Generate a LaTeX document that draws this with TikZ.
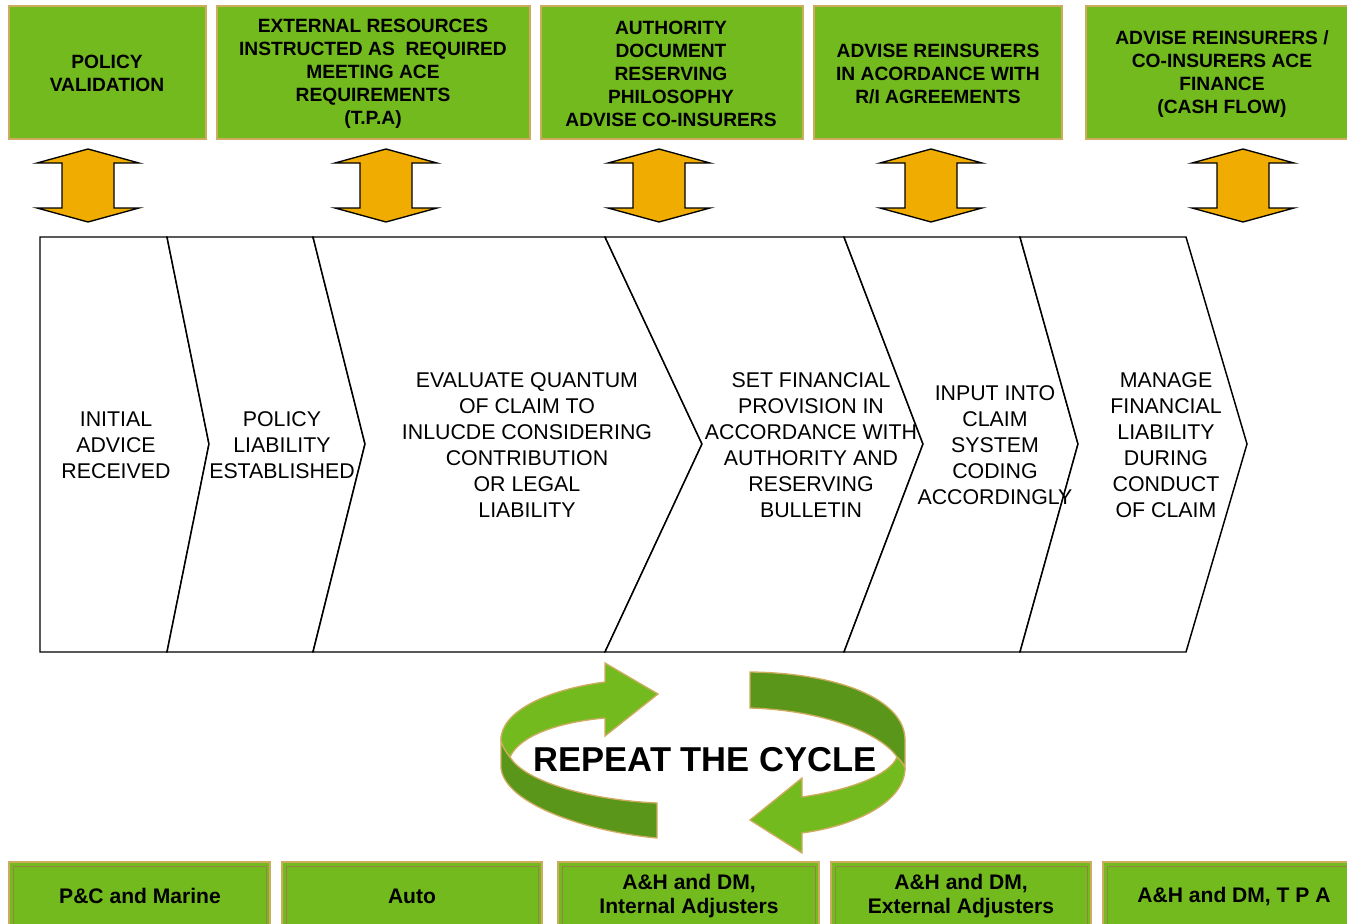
\documentclass[tikz,border=0pt]{standalone}
\usepackage{fontspec}
\setmainfont{Liberation Sans}
\definecolor{boxgreen}{RGB}{114,186,30}
\definecolor{darkgreen}{RGB}{90,150,26}
\definecolor{tanline}{RGB}{205,172,95}
\definecolor{innerline}{RGB}{150,130,70}
\definecolor{orangeA}{RGB}{240,172,0}
\tikzset{
  topbox/.style={fill=boxgreen, draw=tanline, line width=1.5pt},
  botbox/.style={fill=boxgreen, draw=tanline, line width=1.3pt},
  botinner/.style={draw=innerline, line width=0.6pt},
  toptext/.style={align=center, font=\bfseries\fontsize{14.4}{17.3}\selectfont, inner sep=0pt},
  bottext/.style={align=center, font=\bfseries\fontsize{15.8}{18}\selectfont, inner sep=0pt},
  chevtext/.style={align=center, font=\fontsize{16}{19.5}\selectfont, inner sep=0pt},
  chev/.style={draw=black, line width=1.1pt, line join=miter, fill=white},
  dblarrowstyle/.style={fill=orangeA, draw=black, line width=1pt, line join=miter},
  cyclelight/.style={fill=boxgreen, draw=tanline, line width=1pt},
  cycledark/.style={fill=darkgreen, draw=tanline, line width=1pt},
  dbl/.pic={\draw[dblarrowstyle] (0,149) -- (51,163) -- (26,163) -- (26,208) -- (51,208) -- (0,222) -- (-51,208) -- (-26,208) -- (-26,163) -- (-51,163) -- cycle;}
}
\begin{document}
\begin{tikzpicture}[x=0.75pt,y=-0.75pt]
\useasboundingbox (0,0) rectangle (1347,924);
\clip (0,0) rectangle (1347,924);

% top boxes
\path[topbox] (9,6) rectangle (206,139);
\path[topbox] (217,6) rectangle (530,139);
\path[topbox] (541,6) rectangle (803,139);
\path[topbox] (814,6) rectangle (1062,139);
\path[topbox] (1086,6) rectangle (1362,139);
\node[toptext] (t1) at (107,73) {POLICY\\VALIDATION};
\node[toptext] (t2) at (373,74) {EXTERNAL RESOURCES\\INSTRUCTED AS\ \ REQUIRED\\MEETING ACE\\REQUIREMENTS\\(T.P.A)};
\node[toptext] (t3) at (671,74) {AUTHORITY\\DOCUMENT\\RESERVING\\PHILOSOPHY\\ADVISE CO-INSURERS};
\node[toptext] (t4) at (938,74) {ADVISE REINSURERS\\IN ACORDANCE WITH\\R/I AGREEMENTS};
\node[toptext] (t5) at (1222,74) {ADVISE REINSURERS /\\CO-INSURERS ACE\\FINANCE\\(CASH FLOW)};

% double arrows
\pic at (88,0) {dbl};
\pic at (386,0) {dbl};
\pic at (659,0) {dbl};
\pic at (931,0) {dbl};
\pic at (1243,0) {dbl};

% chevrons
\path[chev] (40,237) -- (167,237) -- (209,444) -- (167,652) -- (40,652) -- cycle;
\path[chev] (167,237) -- (313,237) -- (365,444) -- (313,652) -- (167,652) -- (209,444) -- cycle;
\path[chev] (313,237) -- (605,237) -- (702,444) -- (605,652) -- (313,652) -- (365,444) -- cycle;
\path[chev] (605,237) -- (844,237) -- (923,444) -- (844,652) -- (605,652) -- (702,444) -- cycle;
\path[chev] (844,237) -- (1020,237) -- (1078,444) -- (1020,652) -- (844,652) -- (923,444) -- cycle;
\path[chev] (1020,237) -- (1186,237) -- (1247,444) -- (1186,652) -- (1020,652) -- (1078,444) -- cycle;
\node[chevtext] (c1) at (116,445) {INITIAL\\ADVICE\\RECEIVED};
\node[chevtext] (c2) at (282,445) {POLICY\\LIABILITY\\ESTABLISHED};
\node[chevtext] (c3) at (527,445) {EVALUATE QUANTUM\\OF CLAIM TO\\INLUCDE CONSIDERING\\CONTRIBUTION\\OR LEGAL\\LIABILITY};
\node[chevtext] (c4) at (811,445) {SET FINANCIAL\\PROVISION IN\\ACCORDANCE WITH\\AUTHORITY AND\\RESERVING\\BULLETIN};
\node[chevtext] (c5) at (995,445) {INPUT INTO\\CLAIM\\SYSTEM\\CODING\\ACCORDINGLY};
\node[chevtext] (c6) at (1166,445) {MANAGE\\FINANCIAL\\LIABILITY\\DURING\\CONDUCT\\OF CLAIM};

% cycle arrows
\path[cycledark] (501,740) -- (501,768) .. controls (505,805) and (590,832) .. (657,838) -- (657,803) .. controls (590,800) and (525,782) .. (510,757) .. controls (506,752) and (502,746) .. (501,740) -- cycle;
\path[cyclelight] (501,740) .. controls (501,712) and (545,690) .. (605,682) -- (605,663) -- (658,694) -- (605,736) -- (605,718) .. controls (560,722) and (520,735) .. (510,757) .. controls (506,752) and (502,746) .. (501,740) -- cycle;
\path[cycledark] (750,672) .. controls (840,673) and (905,700) .. (905,740) -- (905,768) .. controls (903,763) and (900,760) .. (897,757) .. controls (880,732) and (820,710) .. (750,708) -- cycle;
\path[cyclelight] (897,757) .. controls (900,760) and (903,763) .. (905,768) .. controls (905,800) and (860,825) .. (802,833) -- (802,853) -- (750,820) -- (802,778) -- (802,797) .. controls (850,790) and (890,775) .. (897,757) -- cycle;
\node[font=\bfseries\fontsize{25.9}{30}\selectfont, inner sep=0pt] (cyc) at (705,760) {REPEAT THE CYCLE};

% bottom boxes
\foreach \a/\b in {9/270, 282/542, 558/819, 831/1091, 1103/1365} {
  \path[botbox] (\a,862) rectangle (\b,935);
  \path[botinner] (\a+4,866) rectangle (\b-4,935);
}
\node[bottext] (b1) at (140,896) {P\&C and Marine};
\node[bottext] (b2) at (412,896) {Auto};
\node[bottext] (b3) at (689,896) {A\&H and DM,\\Internal Adjusters};
\node[bottext] (b4) at (961,896) {A\&H and DM,\\External Adjusters};
\node[bottext] (b5) at (1234,896) {A\&H and DM, T P A};
\end{tikzpicture}
\end{document}
